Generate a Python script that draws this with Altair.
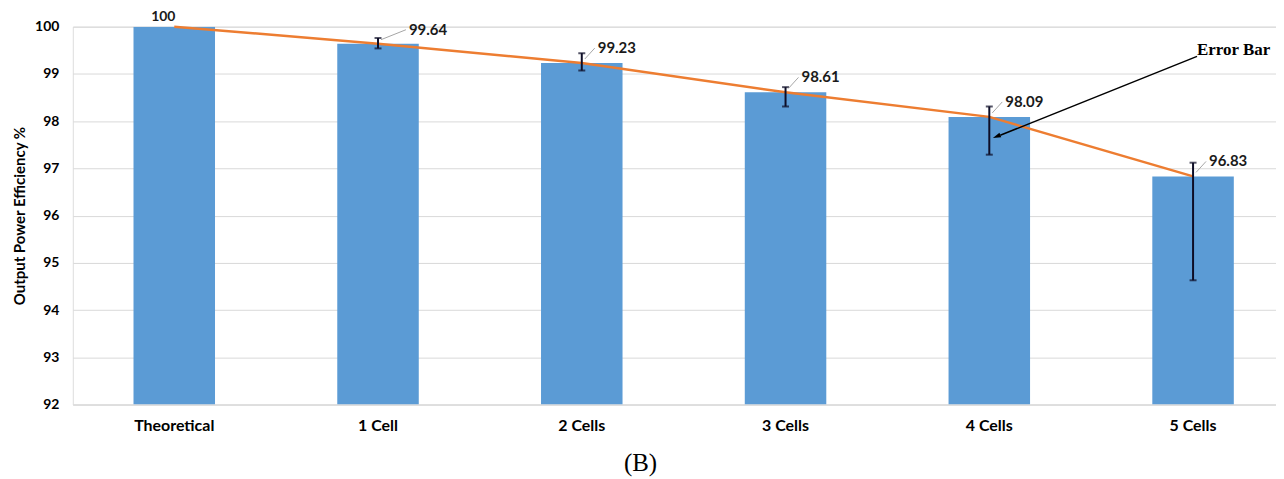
import altair as alt
import pandas as pd

categories = ["Theoretical", "1 Cell", "2 Cells", "3 Cells", "4 Cells", "5 Cells"]
efficiency = [100, 99.64, 99.23, 98.61, 98.09, 96.83]
err_high = [None, 99.76, 99.44, 98.72, 98.31, 97.12]
err_low = [None, 99.54, 99.07, 98.31, 97.29, 94.63]
y_ticks = [92, 93, 94, 95, 96, 97, 98, 99, 100]
axis_floor = 92

# annotation anchor (data units): arrow from near "5 Cells" to the "4 Cells" error bar
arrow_from_cat = "5 Cells"
arrow_from_val = 99.35
arrow_to_cat = "4 Cells"
arrow_to_val = 97.68

df = pd.DataFrame({
    "cat": categories,
    "val": efficiency,
    "hi": err_high,
    "lo": err_low,
    "label": [f"{v:g}" for v in efficiency],
})
ann = pd.DataFrame({
    "c1": [arrow_from_cat], "v1": [arrow_from_val],
    "c2": [arrow_to_cat], "v2": [arrow_to_val],
    "txt": ["Error Bar"],
})

FONT = "Lato"
xscale = alt.Scale(domain=categories, paddingInner=0.6, paddingOuter=0.2525, align=0.59)
yscale = alt.Scale(domain=[92, 100], nice=False, zero=False)

x = alt.X("cat:N", scale=xscale, sort=categories, title=None,
          axis=alt.Axis(labelAngle=0, labelFont=FONT, labelFontWeight="bold",
                        labelFontSize=16, labelColor="#000000", labelPadding=13,
                        domain=True, domainColor="#d9d9d9", ticks=False, tickSize=0))
y = alt.Y("val:Q", scale=yscale, title="Output Power Efficiency %",
          axis=alt.Axis(values=y_ticks, labelFont=FONT, labelFontWeight="bold",
                        labelFontSize=14, labelColor="#000000", labelPadding=14,
                        titleFont=FONT, titleFontWeight="bold", titleFontSize=15,
                        titleColor="#000000", titlePadding=7,
                        domain=False, ticks=False, tickSize=0, grid=True,
                        gridColor="#d9d9d9", gridWidth=1))

base = alt.Chart(df).transform_calculate(floor=str(axis_floor))

bars = base.mark_bar(color="#5B9BD5", clip=True).encode(x=x, y=y, y2="floor:Q")

line = base.mark_line(color="#ED7D31", strokeWidth=2.5).encode(
    x=alt.X("cat:N", scale=xscale, sort=categories),
    y=alt.Y("val:Q", scale=yscale))

eb = base.transform_filter("datum.hi != null")
err_rule = eb.mark_rule(color="#0d0d26", strokeWidth=2).encode(
    x=alt.X("cat:N", scale=xscale, sort=categories),
    y=alt.Y("hi:Q", scale=yscale), y2="lo:Q")
cap_hi = eb.mark_tick(color="#0d0d26", thickness=2, size=7, orient="horizontal").encode(
    x=alt.X("cat:N", scale=xscale, sort=categories), y=alt.Y("hi:Q", scale=yscale))
cap_lo = eb.mark_tick(color="#0d0d26", thickness=2, size=7, orient="horizontal").encode(
    x=alt.X("cat:N", scale=xscale, sort=categories), y=alt.Y("lo:Q", scale=yscale))

lab_enc = dict(x=alt.X("cat:N", scale=xscale, sort=categories),
               y=alt.Y("val:Q", scale=yscale), text="label:N")
lab_top = base.transform_filter("datum.cat == 'Theoretical'").mark_text(
    font=FONT, fontWeight="bold", fontSize=14, color="#1a1a1a", align="center",
    dx=-11, dy=-10).encode(**lab_enc)
lab_one = base.transform_filter("datum.cat == '1 Cell'").mark_text(
    font=FONT, fontWeight="bold", fontSize=15, color="#1a1a1a", align="left",
    dx=31, dy=-14).encode(**lab_enc)
lab_rest = base.transform_filter("datum.cat != 'Theoretical' && datum.cat != '1 Cell'").mark_text(
    font=FONT, fontWeight="bold", fontSize=15, color="#1a1a1a", align="left",
    dx=16, dy=-15).encode(**lab_enc)

lead_enc = dict(x=alt.X("cat:N", scale=xscale, sort=categories), x2="cat:N",
                y=alt.Y("val:Q", scale=yscale), y2="val:Q")
lead_one = base.transform_filter("datum.cat == '1 Cell'").mark_rule(
    color="#a6a6a6", strokeWidth=1, xOffset=3, x2Offset=28, yOffset=-4, y2Offset=-14
).encode(**lead_enc)
lead_rest = base.transform_filter("datum.cat != 'Theoretical' && datum.cat != '1 Cell'").mark_rule(
    color="#a6a6a6", strokeWidth=1, xOffset=3, x2Offset=13, yOffset=-4, y2Offset=-15
).encode(**lead_enc)

annb = alt.Chart(ann)
arrow = annb.mark_rule(color="#000000", strokeWidth=1.5, xOffset=4, yOffset=-1,
                       x2Offset=11, y2Offset=-1).encode(
    x=alt.X("c1:N", scale=xscale, sort=categories), x2="c2:N",
    y=alt.Y("v1:Q", scale=yscale), y2="v2:Q")
head = annb.mark_point(shape="M0,-1L0.5,0.7L-0.5,0.7Z", filled=True, color="#000000",
                       opacity=1, size=90, angle=248, xOffset=8, yOffset=0).encode(
    x=alt.X("c2:N", scale=xscale, sort=categories), y=alt.Y("v2:Q", scale=yscale))
ann_text = annb.mark_text(font="Liberation Serif", fontWeight="bold", fontSize=17,
                          color="#000000", align="left", baseline="middle",
                          dx=4, dy=-7).encode(
    x=alt.X("c1:N", scale=xscale, sort=categories), y=alt.Y("v1:Q", scale=yscale),
    text="txt:N")

chart = alt.layer(
    bars, line, err_rule, cap_hi, cap_lo, lead_one, lead_rest,
    lab_top, lab_one, lab_rest, arrow, head, ann_text
).properties(
    width=1207, height=379,
    autosize=alt.AutoSizeParams(type="none"),
    padding={"left": 65, "top": 18, "right": 0, "bottom": 74},
    title=alt.TitleParams("(B)", orient="bottom", font="Liberation Serif",
                          fontSize=25, fontWeight="normal", color="#000000",
                          offset=18, anchor="middle", dx=-34),
).configure_view(stroke=None).configure(background="#ffffff")

chart.save("out.html", embed_options={"renderer": "svg", "actions": False})
